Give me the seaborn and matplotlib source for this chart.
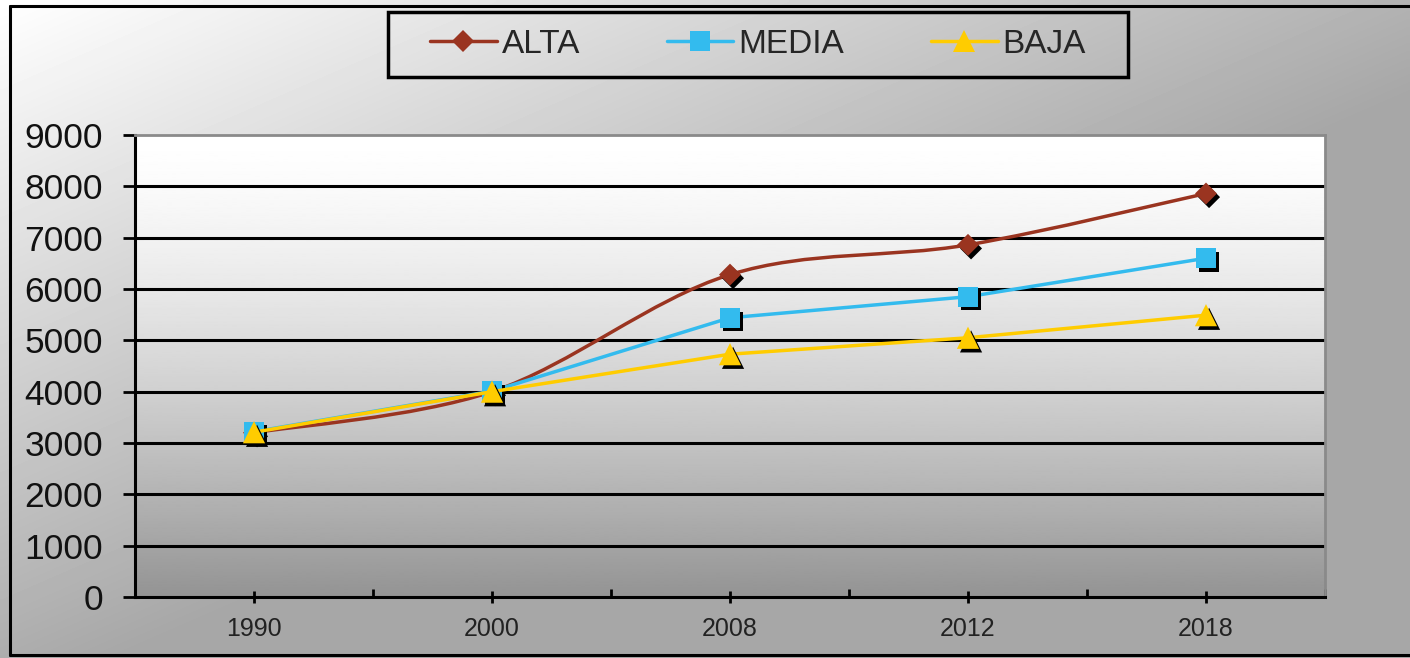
import numpy as np
import pandas as pd
import matplotlib
matplotlib.use("Agg")
import matplotlib.pyplot as plt
import seaborn as sns
from matplotlib.path import Path
from matplotlib.patches import PathPatch, Rectangle
from matplotlib.lines import Line2D
import matplotlib.patheffects as pe

# ---------------- data ----------------
years = ["1990", "2000", "2008", "2012", "2018"]
alta = [3200, 4000, 6280, 6860, 7860]
media = [3220, 4010, 5440, 5850, 6600]
baja = [3210, 4000, 4730, 5050, 5490]
series_names = ["ALTA", "MEDIA", "BAJA"]
y_ticks = [0, 1000, 2000, 3000, 4000, 5000, 6000, 7000, 8000, 9000]

colors = {"ALTA": "#9A3420", "MEDIA": "#33BBEE", "BAJA": "#FFCC00"}
markers = {"ALTA": "D", "MEDIA": "s", "BAJA": "^"}
msizes = {"ALTA": 125, "MEDIA": 200, "BAJA": 255}

pos = np.arange(len(years))
df = pd.DataFrame({
    "pos": np.tile(pos, 3),
    "value": alta + media + baja,
    "serie": np.repeat(series_names, len(years)),
})

sns.set_theme(style="white")
plt.rcParams["font.family"] = ["Liberation Sans", "DejaVu Sans"]

W, H = 1410, 658
fig = plt.figure(figsize=(W / 100, H / 100), dpi=100)

# figure background: diagonal gradient white -> gray
bg = fig.add_axes([0, 0, 1, 1], zorder=-10)
yy, xx = np.mgrid[0:1:200j, 0:1:400j]
t = np.clip(0.87 * xx + 0.93 * yy, 0, 1)
bg.imshow(255 - 88 * t, cmap="gray", vmin=0, vmax=255, aspect="auto",
          extent=[0, 1, 0, 1], origin="upper", interpolation="bilinear")
bg.axis("off")

# figure border
for (xs, ys) in [([10 / W, 10 / W], [3 / H, 1 - 6 / H]),
                 ([10 / W, 1], [1 - 6 / H, 1 - 6 / H]),
                 ([10 / W, 1], [3 / H, 3 / H])]:
    fig.add_artist(Line2D(xs, ys, transform=fig.transFigure, color="black", lw=2.2))

# main axes
ax = fig.add_axes([135 / W, 1 - 597 / H, (1325 - 135) / W, (597 - 135) / H])

# plot area vertical gradient
tt = np.linspace(0, 1, 300)[:, None]
grad = 255 * (1 - 0.42 * tt ** 1.4)
ax.imshow(grad, cmap="gray", vmin=0, vmax=255, aspect="auto",
          extent=[-0.5, 4.5, 0, 9000], origin="upper", zorder=0,
          interpolation="bilinear")
ax.set_xlim(-0.5, 4.5)
ax.set_ylim(0, 9000)

shadow = [pe.SimplePatchShadow(offset=(2.2, -2.6), shadow_rgbFace="black", alpha=1.0),
          pe.Normal()]

LW = 2.5
z = 3
for name in series_names:
    sub = df[df["serie"] == name]
    if name == "ALTA":
        # Excel-style smoothed line (cubic Bezier through the data points)
        P = np.column_stack([sub["pos"].to_numpy(float), sub["value"].to_numpy(float)])
        n = len(P)
        verts = [P[0]]
        codes = [Path.MOVETO]
        for i in range(n - 1):
            p_prev = P[max(i - 1, 0)]
            p_next2 = P[min(i + 2, n - 1)]
            c1 = P[i] + (P[i + 1] - p_prev) / 6
            c2 = P[i + 1] - (p_next2 - P[i]) / 6
            verts += [c1, c2, P[i + 1]]
            codes += [Path.CURVE4] * 3
        ax.add_patch(PathPatch(Path(verts, codes), fill=False, ec=colors[name],
                               lw=LW, zorder=z, capstyle="round"))
    else:
        sns.lineplot(data=sub, x="pos", y="value", color=colors[name], lw=LW,
                     ax=ax, legend=False, zorder=z)
    sns.scatterplot(data=sub, x="pos", y="value", marker=markers[name],
                    s=msizes[name], color=colors[name], edgecolor="none",
                    linewidth=0, ax=ax, legend=False, zorder=z + 1)
    ax.collections[-1].set_path_effects(shadow)
    z += 2

ax.set_xlabel("")
ax.set_ylabel("")

# ticks
ax.set_xticks(pos)
ax.set_xticklabels(years, fontsize=18, color="#222222")
ax.set_xticks(np.arange(len(years)) + 0.5, minor=True)
ax.tick_params(axis="x", which="major", direction="inout", length=9, width=2,
               color="black", pad=10, bottom=True)
ax.tick_params(axis="x", which="minor", direction="in", length=6, width=2,
               color="black", bottom=True)
ax.set_yticks(y_ticks)
ax.set_yticklabels([str(v) for v in y_ticks], fontsize=25.5, color="#111111")
ax.tick_params(axis="y", which="major", direction="out", length=9, width=2,
               color="black", pad=14, left=True)

# grid
ax.set_axisbelow(True)
ax.grid(axis="y", color="black", lw=2.2)
ax.grid(axis="x", visible=False)
ygl = ax.get_ygridlines()
ygl[0].set_visible(False)
ygl[-1].set_visible(False)

# spines
for s in ["left", "bottom"]:
    ax.spines[s].set_color("black")
    ax.spines[s].set_linewidth(2.2)
for s in ["top", "right"]:
    ax.spines[s].set_color("#8a8a8a")
    ax.spines[s].set_linewidth(2)

# legend
handles = [Line2D([], [], color=colors[n], lw=LW, marker=markers[n],
                  markersize=np.sqrt(msizes[n]), markeredgewidth=0)
           for n in series_names]
fig.legend(handles, series_names, loc="center",
           bbox_to_anchor=(758 / W, 1 - 44.5 / H), ncol=3, frameon=False,
           fontsize=24, handlelength=2.0, handletextpad=0.15, columnspacing=2.6)
fig.add_artist(Rectangle((388 / W, 1 - 77 / H), 740 / W, 65 / H,
                         transform=fig.transFigure, fill=False,
                         ec="black", lw=2.5))

fig.savefig("out.png", dpi=100)
